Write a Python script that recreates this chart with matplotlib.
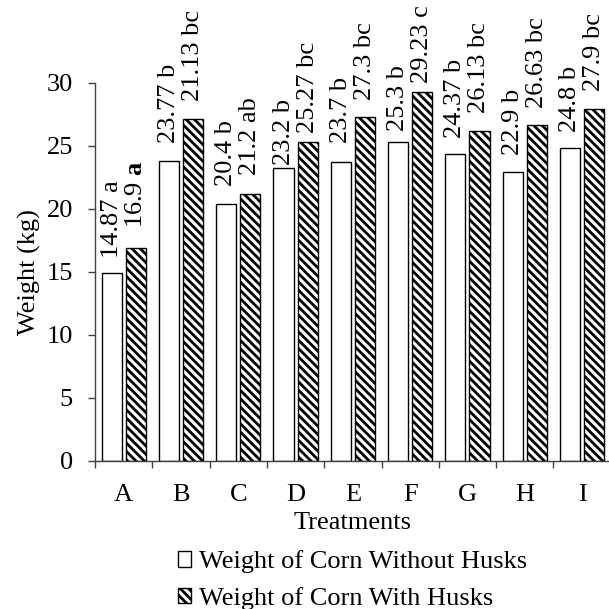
import matplotlib
matplotlib.use("Agg")
import matplotlib.pyplot as plt
from matplotlib.patches import Patch
import numpy as np

plt.rcParams['font.family'] = ['Liberation Serif', 'DejaVu Serif']
plt.rcParams['mathtext.fontset'] = 'custom'
plt.rcParams['mathtext.rm'] = 'Liberation Serif'
plt.rcParams['mathtext.bf'] = 'Liberation Serif:bold'
plt.rcParams['hatch.linewidth'] = 2.0

treatments = ['A', 'B', 'C', 'D', 'E', 'F', 'G', 'H', 'I']
without_husks = [14.87, 23.77, 20.4, 23.2, 23.7, 25.3, 24.37, 22.9, 24.8]
with_husks = [16.9, 27.13, 21.2, 25.27, 27.3, 29.23, 26.13, 26.63, 27.9]
labels_without = ['14.87 a', '23.77 b', '20.4 b', '23.2 b', '23.7 b', '25.3 b',
                  '24.37 b', '22.9 b', '24.8 b']
labels_with = [r'16.9 $\mathbf{a}$', '21.13 bc', '21.2 ab', '25.27 bc', '27.3 bc',
               '29.23 c', '26.13 bc', '26.63 bc', '27.9 bc']
series_names = ['Weight of Corn Without Husks', 'Weight of Corn With Husks']

# label gaps above the bars (points) - styling only
gap_without = [11, 13, 13, 2.5, 13.5, 8, 11.5, 12, 12]
gap_with = [14, 13, 13, 7, 12, 7, 13.5, 12, 13]

FS = 19
fig = plt.figure(figsize=(6.09, 6.09), dpi=100)
ax = fig.add_axes([95 / 609, 1 - 460.5 / 609, 515.7 / 609, (460.5 - 82.7) / 609])

x = np.arange(len(treatments))
w = 0.35
off = 0.21
ax.bar(x - off, without_husks, w, facecolor='white', edgecolor='black', linewidth=1.0)
ax.bar(x + off, with_husks, w, facecolor='white', edgecolor='black', linewidth=1.0,
       hatch='\\\\\\\\')

for xi, v, lab, g in zip(x - off, without_husks, labels_without, gap_without):
    ax.annotate(lab, (xi, v), xytext=(0, g), textcoords='offset points',
                rotation=90, ha='center', va='bottom', fontsize=FS)
for xi, v, lab, g in zip(x + off, with_husks, labels_with, gap_with):
    ax.annotate(lab, (xi, v), xytext=(0, g), textcoords='offset points',
                rotation=90, ha='center', va='bottom', fontsize=FS)

ax.set_xlim(-0.5, len(treatments) - 0.5)
ax.set_ylim(0, 30)
ax.set_yticks(np.arange(0, 31, 5))
ax.set_xticks(x)
ax.set_xticklabels(treatments, fontsize=FS)
ax.set_xticks(np.arange(-0.5, len(treatments), 1), minor=True)
ax.tick_params(axis='x', which='major', length=0, pad=17)
ax.tick_params(axis='x', which='minor', length=5, width=1.0, color='#404040', direction='out')
ax.tick_params(axis='y', length=5, width=1.0, color='#404040', labelsize=FS, pad=11)

for s in ['top', 'right']:
    ax.spines[s].set_visible(False)
for s in ['left', 'bottom']:
    ax.spines[s].set_color('#404040')
    ax.spines[s].set_linewidth(1.0)

ax.set_ylabel('Weight (kg)', fontsize=FS, labelpad=4)
ax.set_xlabel('Treatments', fontsize=FS, labelpad=4)

handles = [Patch(facecolor='white', edgecolor='black', linewidth=1.0),
           Patch(facecolor='white', edgecolor='black', linewidth=1.0, hatch='\\\\\\\\')]
ax.legend(handles, series_names, loc='upper center', bbox_to_anchor=(0.5, -0.21),
          frameon=False, fontsize=FS, handlelength=0.5, handleheight=0.5,
          handletextpad=0.3, labelspacing=0.5, borderaxespad=0)

fig.savefig('out.png', dpi=100)
